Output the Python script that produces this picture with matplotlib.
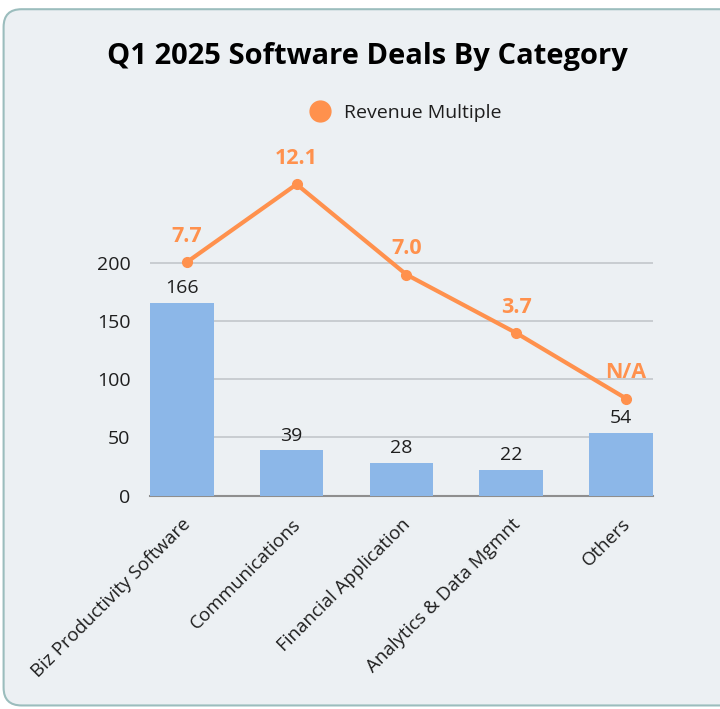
import matplotlib.pyplot as plt
from matplotlib.patches import FancyBboxPatch
from matplotlib.lines import Line2D

# ------------------------------------------------
# Data
# ------------------------------------------------

categories = ["Biz Productivity Software", "Communications", "Financial Application",
              "Analytics & Data Mgmnt", "Others"]
deal_counts = [166, 39, 28, 22, 54]
rev_multiple = [7.7, 12.1, 7.0, 3.7, 0.0]   # N/A drawn at 0
rev_labels = ["7.7", "12.1", "7.0", "3.7", "N/A"]
y_ticks = [0, 50, 100, 150, 200]

# ------------------------------------------------
# Style
# ------------------------------------------------

plt.rcParams["font.family"] = ["Open Sans", "DejaVu Sans"]
bg = "#ECF0F3"
bar_color = "#8CB7E8"
orange = "#FF914D"
text_color = "#1E1E1E"

fig = plt.figure(figsize=(7.2, 7.09), dpi=100)
fig.patch.set_facecolor("white")

# rounded card behind the chart
card = FancyBboxPatch((0.005, 0.005), 1.2, 0.982,
                      boxstyle="round,pad=0,rounding_size=0.025",
                      transform=fig.transFigure, facecolor=bg,
                      edgecolor="#9BBDBD", linewidth=1.5, zorder=-10)
fig.patches.append(card)

ax = fig.add_axes([0.2083, 0.3011, 0.6986, 0.5014])
ax.set_facecolor("none")

x = list(range(len(categories)))

# ------------------------------------------------
# Bars
# ------------------------------------------------

bars = ax.bar(x, deal_counts, width=0.58, color=bar_color, zorder=3)
for xi, v in zip(x, deal_counts):
    ax.annotate(str(v), (xi, v), xytext=(0, 4), textcoords="offset points",
                ha="center", va="bottom", fontsize=14, color=text_color)

ax.set_xlim(-0.29, len(categories) - 1 + 0.29)
ax.set_ylim(0, 306)
ax.set_yticks(y_ticks)
ax.tick_params(axis="y", length=0, pad=14, labelsize=14, labelcolor=text_color)
ax.yaxis.grid(True, color="#C3C7CB", linewidth=1.2, zorder=0)
ax.set_axisbelow(True)
for s in ["top", "right", "left"]:
    ax.spines[s].set_visible(False)
ax.spines["bottom"].set_color("#8E8E8E")
ax.spines["bottom"].set_linewidth(1.5)
ax.spines["bottom"].set_zorder(1)

ax.set_xticks(x)
ax.set_xticklabels(categories, rotation=45, ha="right", rotation_mode="anchor",
                   fontsize=13.5, color=text_color)
ax.tick_params(axis="x", length=0, pad=14)

# ------------------------------------------------
# Revenue multiple line (hidden second axis)
# ------------------------------------------------

x_line = [xi + 0.045 for xi in x]

ax2 = ax.twinx()
ax2.set_ylim(-5.48, 14.6)
ax2.plot(x_line, rev_multiple, color=orange, linewidth=3, marker="o",
         markersize=7, zorder=5)
for xi, v, lab in zip(x_line, rev_multiple, rev_labels):
    ax2.annotate(lab, (xi, v), xytext=(0, 11), textcoords="offset points",
                 ha="center", va="bottom", fontsize=15.5, fontweight="bold",
                 color=orange)
ax2.set_yticks([])
for s in ax2.spines.values():
    s.set_visible(False)

# ------------------------------------------------
# Title + legend
# ------------------------------------------------

fig.text(0.51, 0.92, "Q1 2025 Software Deals By Category", ha="center",
         va="center", fontsize=21, fontweight="bold", color="black")

handle = Line2D([], [], color=orange, marker="o", linestyle="none", markersize=15)
fig.legend([handle], ["Revenue Multiple"], loc="center", bbox_to_anchor=(0.557, 0.841),
           frameon=False, fontsize=14, handletextpad=0.2, labelcolor=text_color)

fig.savefig("out.png", dpi=100, facecolor=fig.get_facecolor())
